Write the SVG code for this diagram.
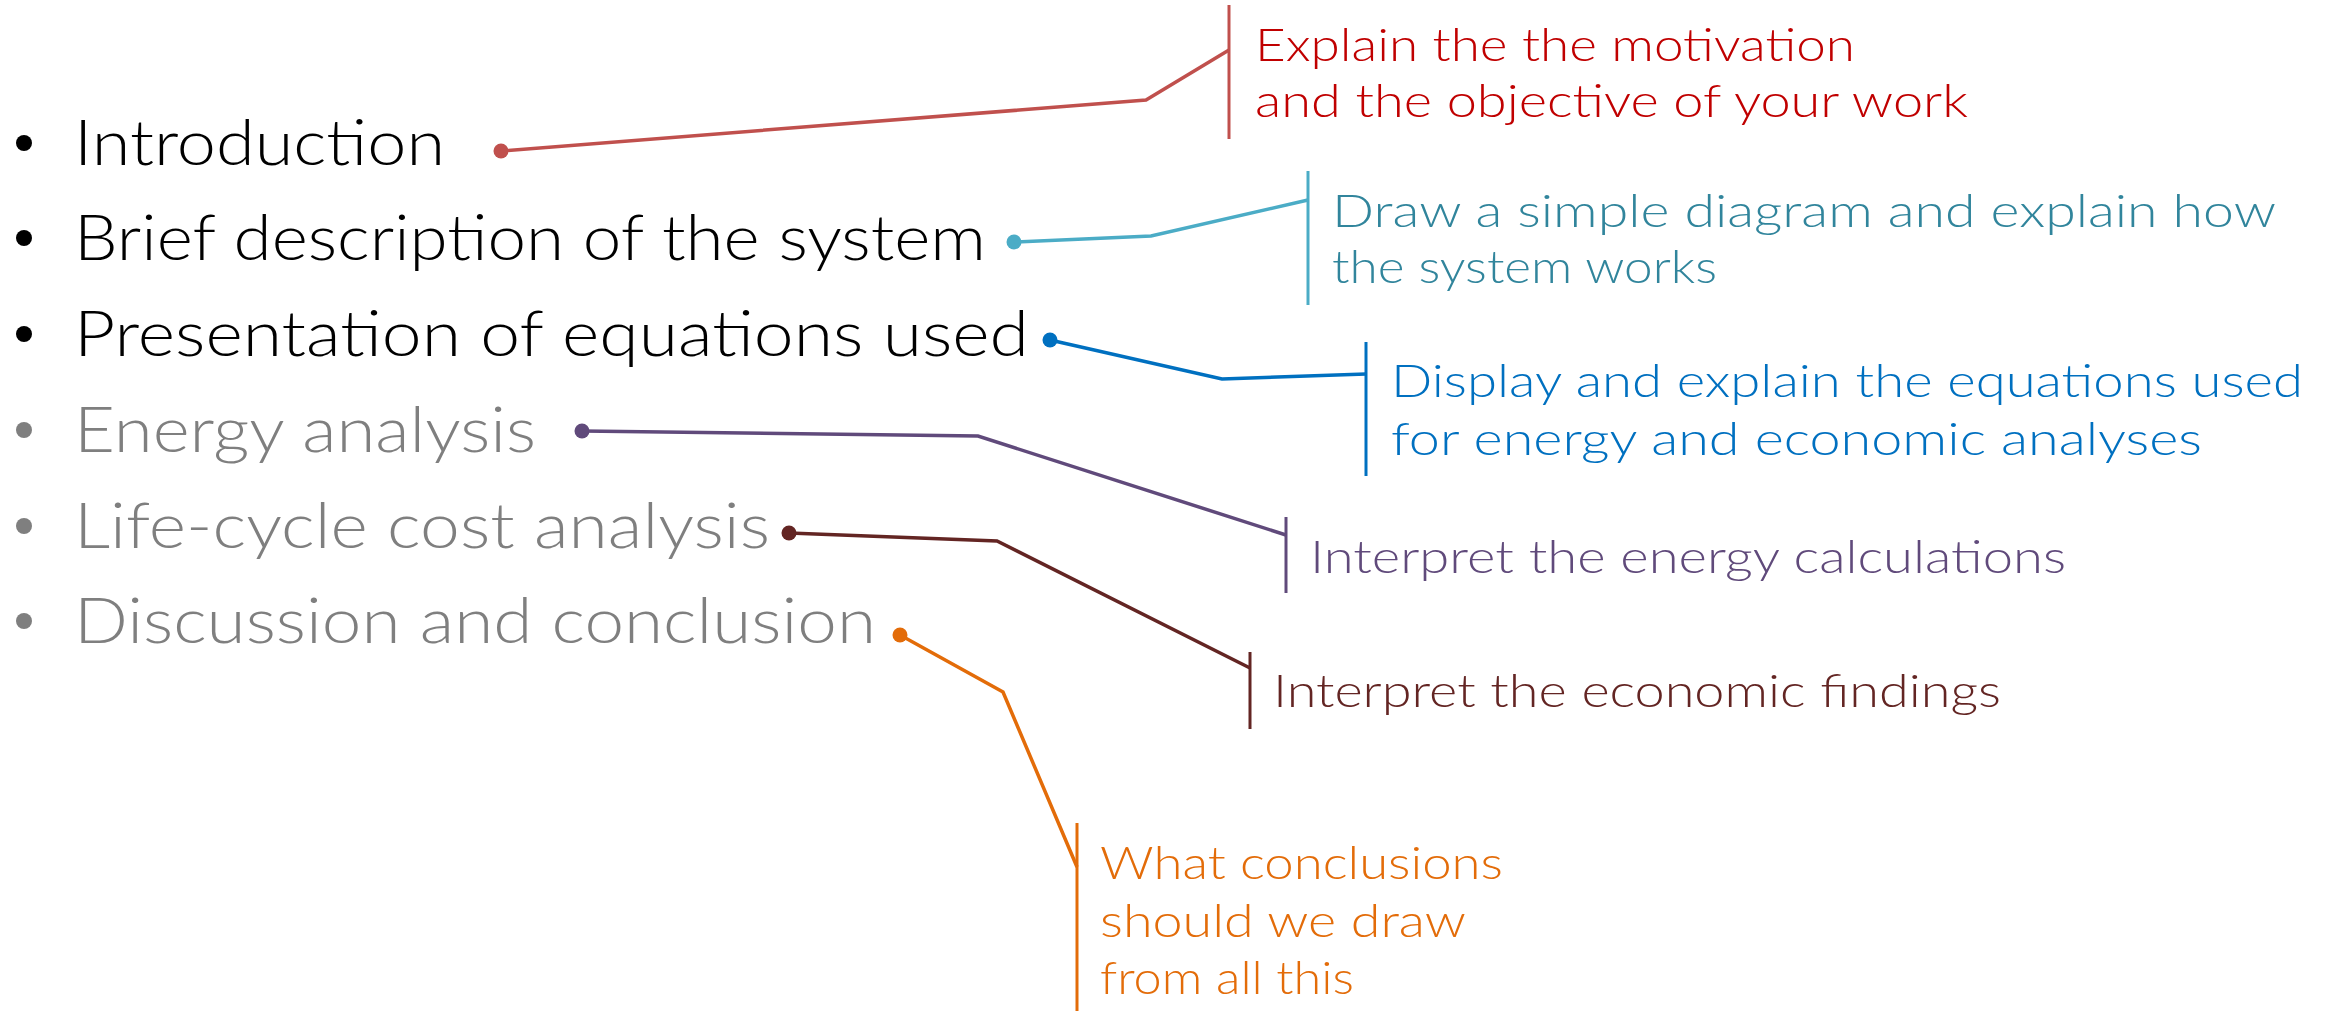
<svg xmlns="http://www.w3.org/2000/svg" width="2338" height="1011" viewBox="0 0 2338 1011">
<style>
text{font-family:Lato,"Open Sans","DejaVu Sans",sans-serif;font-weight:300;}
.main{font-size:64px;}
.note{font-size:46px;}
.dark{fill:#000000;}
.gray{fill:#7f7f7f;}
.conn{fill:none;stroke-width:3.5;stroke-linejoin:miter;}
.bar{stroke-width:3;}
</style>
<rect width="2338" height="1011" fill="#ffffff"/>
<g id="item-introduction">
<circle cx="24" cy="143" r="8" class="dark"/>
<text x="74" y="165" class="main dark" textLength="371" lengthAdjust="spacingAndGlyphs">Introduction</text>
</g>
<g id="item-brief-description">
<circle cx="24" cy="238" r="8" class="dark"/>
<text x="74" y="260" class="main dark" textLength="912" lengthAdjust="spacingAndGlyphs">Brief description of the system</text>
</g>
<g id="item-presentation">
<circle cx="24" cy="334" r="8" class="dark"/>
<text x="74" y="356" class="main dark" textLength="955" lengthAdjust="spacingAndGlyphs">Presentation of equations used</text>
</g>
<g id="item-energy">
<circle cx="24" cy="430" r="8" class="gray"/>
<text x="74" y="452" class="main gray" textLength="462" lengthAdjust="spacingAndGlyphs">Energy analysis</text>
</g>
<g id="item-lcc">
<circle cx="24" cy="526" r="8" class="gray"/>
<text x="74" y="548" class="main gray" textLength="696" lengthAdjust="spacingAndGlyphs">Life-cycle cost analysis</text>
</g>
<g id="item-discussion">
<circle cx="24" cy="621" r="8" class="gray"/>
<text x="74" y="643" class="main gray" textLength="802" lengthAdjust="spacingAndGlyphs">Discussion and conclusion</text>
</g>
<g id="note-motivation">
<line x1="1229" y1="5" x2="1229" y2="139" stroke="#c0504d" class="bar"/>
<text class="note" fill="#c00000"><tspan x="1255" y="61" textLength="600" lengthAdjust="spacingAndGlyphs">Explain the the motivation</tspan><tspan x="1255" y="117" textLength="713" lengthAdjust="spacingAndGlyphs">and the objective of your work</tspan></text>
</g>
<g id="note-diagram">
<line x1="1308" y1="171" x2="1308" y2="305" stroke="#4bacc6" class="bar"/>
<text class="note" fill="#31859c"><tspan x="1332" y="227" textLength="944" lengthAdjust="spacingAndGlyphs">Draw a simple diagram and explain how</tspan><tspan x="1332" y="283" textLength="385" lengthAdjust="spacingAndGlyphs">the system works</tspan></text>
</g>
<g id="note-equations">
<line x1="1366" y1="342" x2="1366" y2="476" stroke="#0070c0" class="bar"/>
<text class="note" fill="#0070c0"><tspan x="1391" y="397" textLength="912" lengthAdjust="spacingAndGlyphs">Display and explain the equations used</tspan><tspan x="1391" y="455" textLength="811" lengthAdjust="spacingAndGlyphs">for energy and economic analyses</tspan></text>
</g>
<g id="note-energy">
<line x1="1286" y1="517" x2="1286" y2="593" stroke="#604a7b" class="bar"/>
<text x="1310" y="573" class="note" fill="#604a7b" textLength="756" lengthAdjust="spacingAndGlyphs">Interpret the energy calculations</text>
</g>
<g id="note-economic">
<line x1="1250" y1="652" x2="1250" y2="729" stroke="#632523" class="bar"/>
<text x="1273" y="707" class="note" fill="#632523" textLength="728" lengthAdjust="spacingAndGlyphs">Interpret the economic findings</text>
</g>
<g id="note-conclusions">
<line x1="1077" y1="823" x2="1077" y2="1011" stroke="#e36c09" class="bar"/>
<text class="note" fill="#e36c09"><tspan x="1100" y="879" textLength="403" lengthAdjust="spacingAndGlyphs">What conclusions</tspan><tspan x="1100" y="937" textLength="366" lengthAdjust="spacingAndGlyphs">should we draw</tspan><tspan x="1100" y="994" textLength="254" lengthAdjust="spacingAndGlyphs">from all this</tspan></text>
</g>
<g id="connectors">
<circle cx="501" cy="151" r="7.5" fill="#c0504d"/>
<polyline class="conn" stroke="#c0504d" points="501,151 1146,100 1229,50"/>
<circle cx="1014" cy="242" r="7.5" fill="#4bacc6"/>
<polyline class="conn" stroke="#4bacc6" points="1014,242 1151,236 1308,200"/>
<circle cx="1050" cy="340" r="7.5" fill="#0070c0"/>
<polyline class="conn" stroke="#0070c0" points="1050,340 1222,379 1366,374"/>
<circle cx="582" cy="431" r="7.5" fill="#604a7b"/>
<polyline class="conn" stroke="#604a7b" points="582,431 978,436 1286,535"/>
<circle cx="789" cy="533" r="7.5" fill="#632523"/>
<polyline class="conn" stroke="#632523" points="789,533 997,541 1250,668"/>
<circle cx="900" cy="635" r="7.5" fill="#e36c09"/>
<polyline class="conn" stroke="#e36c09" points="900,635 1003,692 1077,867"/>
</g>
</svg>
